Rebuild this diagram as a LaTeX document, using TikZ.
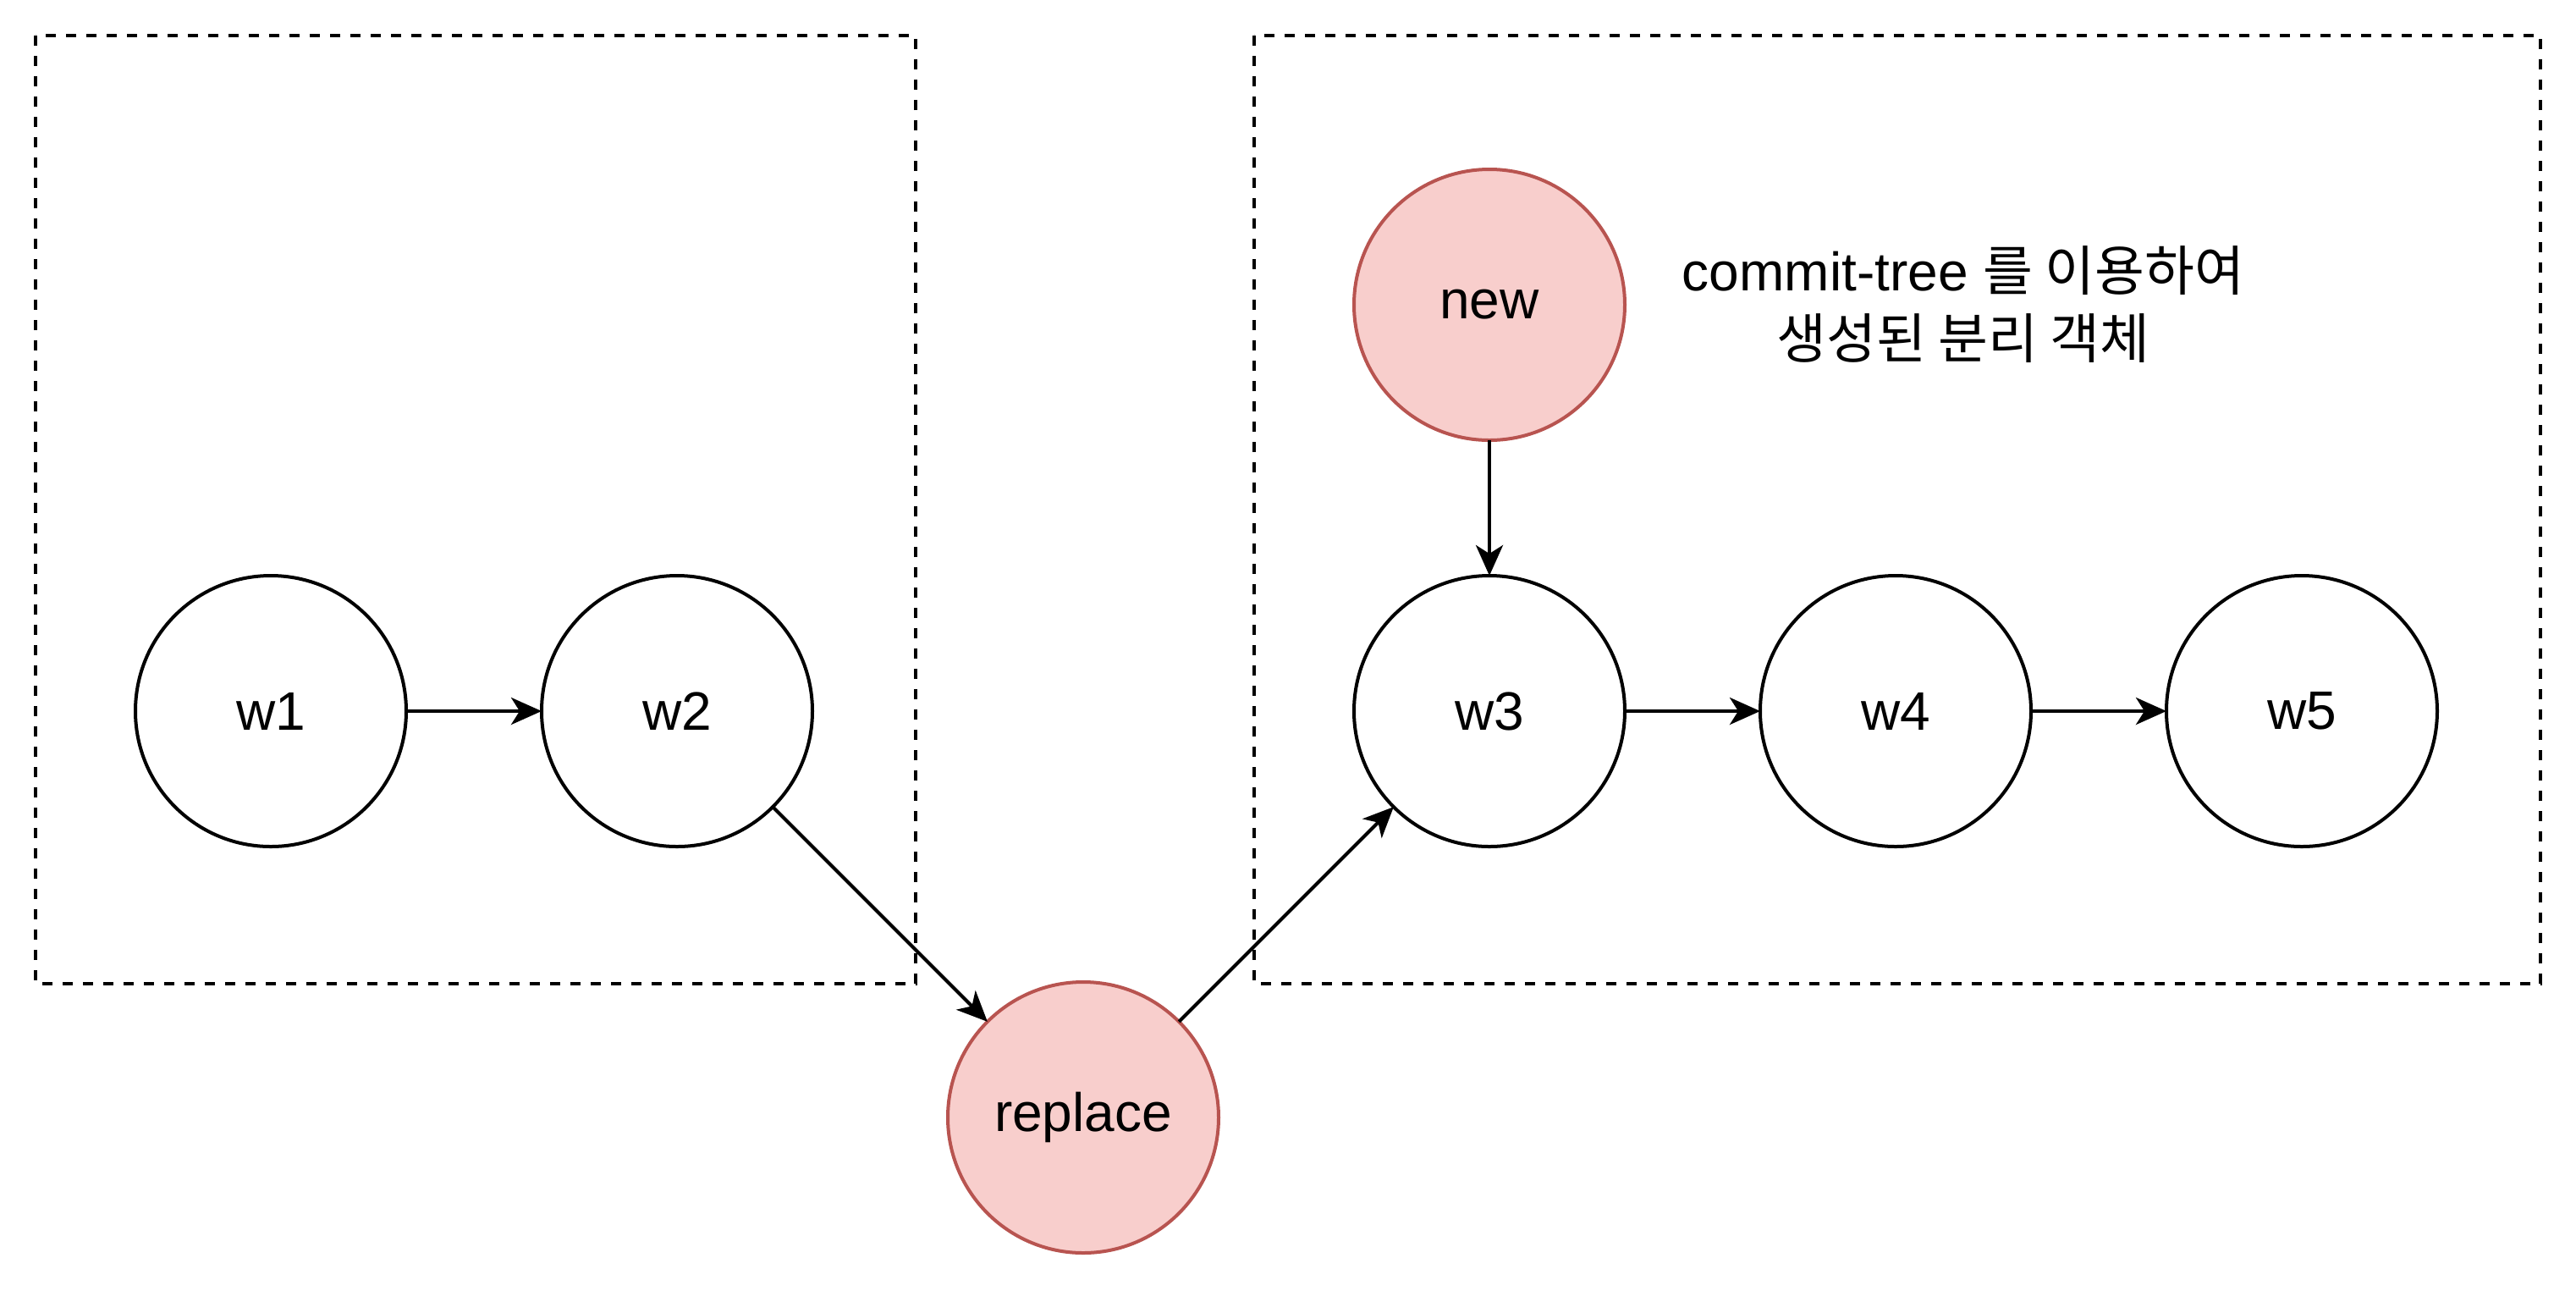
\documentclass[tikz,border=0pt]{standalone}
\usepackage{fontspec}
\setmainfont{Liberation Sans}
\newfontfamily\krfont{Noto Sans CJK KR}
\usepackage{tikz}
\usetikzlibrary{positioning,arrows.meta}
\definecolor{pinkfill}{HTML}{F8CECC}
\definecolor{pinkline}{HTML}{B85450}
\tikzstyle{every node}=[font=\fontsize{16}{20}\selectfont]
\tikzstyle{commit}=[circle,draw=black,line width=1pt,minimum size=80pt,inner sep=0pt,outer sep=0pt]
\tikzstyle{extra}=[commit,draw=pinkline,fill=pinkfill]
\tikzstyle{link}=[line width=1pt,-{Stealth[length=9pt,width=8pt,inset=2.5pt]}]
\tikzstyle{groupbox}=[line width=1pt,dash pattern=on 3pt off 3pt]

\begin{document}
\begin{tikzpicture}[x=1pt,y=-1pt,node distance=40pt]
\useasboundingbox (0,0) rectangle (761,381);
\draw[groupbox] (10.5,10.5) rectangle (270.5,290.5);
\draw[groupbox] (370.5,10.5) rectangle (750.5,290.5);
\node[commit] (w1) at (80,210) {w1};
\node[commit,right=of w1] (w2) {w2};
\node[commit,right=160pt of w2] (w3) {w3};
\node[commit,right=of w3] (w4) {w4};
\node[commit,right=of w4] (w5) {w5};
\node[extra,above=of w3] (new) {new};
\node[extra] (replace) at (320,330) {replace};
\node[align=center] (note) at (580,90) {commit-tree {\krfont 를 이용하여}\\{\krfont 생성된 분리 객체}};
\draw[link] (w1) -- (w2);
\draw[link] (w2) -- (replace);
\draw[link] (replace) -- (w3);
\draw[link] (new) -- (w3);
\draw[link] (w3) -- (w4);
\draw[link] (w4) -- (w5);
\end{tikzpicture}
\end{document}
